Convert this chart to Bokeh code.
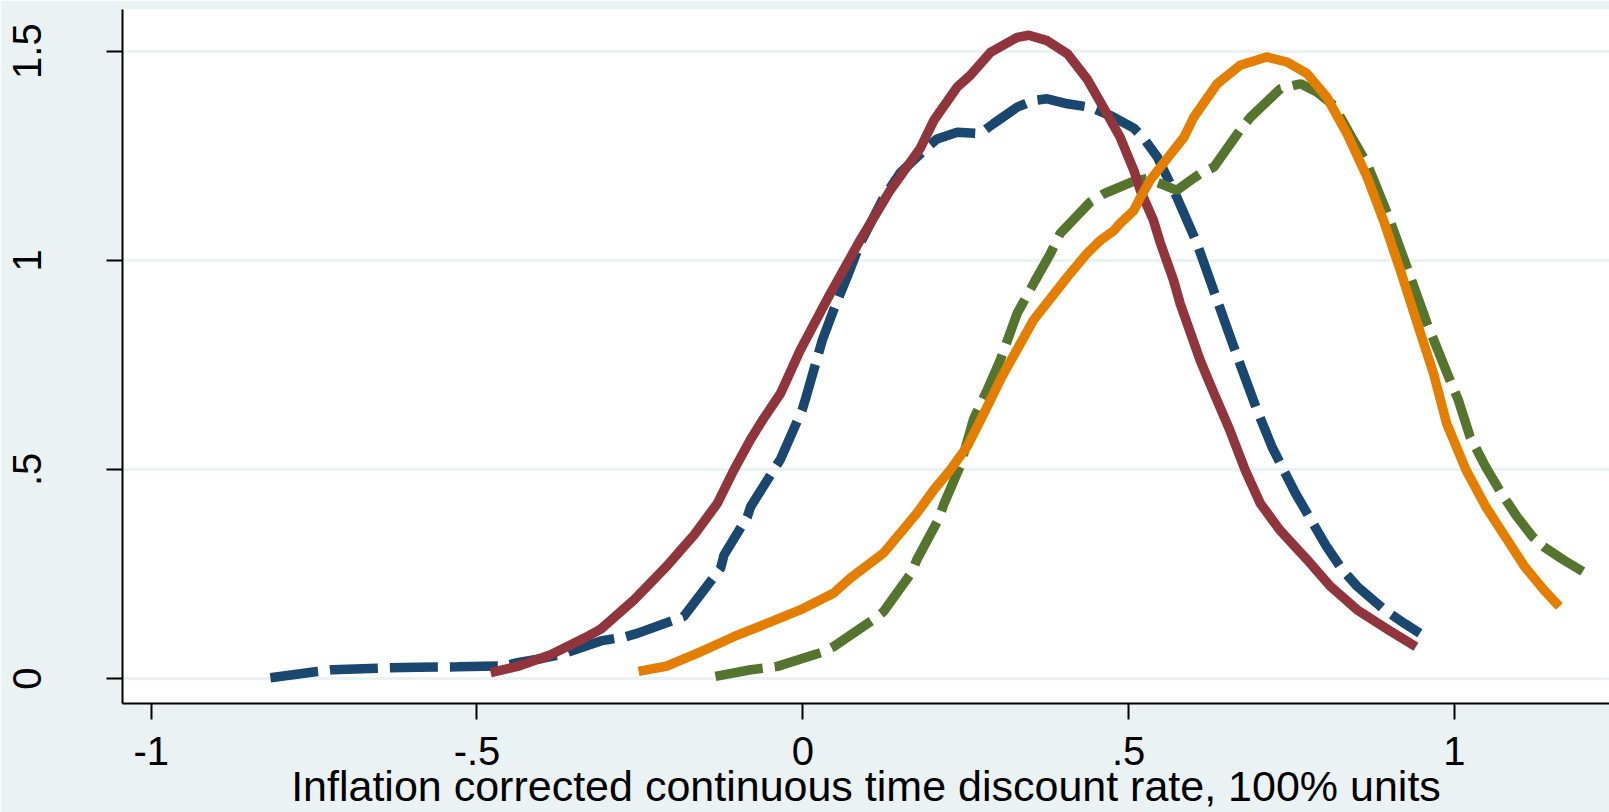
from bokeh.plotting import figure
from bokeh.models import FixedTicker, Range1d
from bokeh.embed import file_html
from bokeh.resources import INLINE

# Series (kernel densities)
navy_x = [-0.817, -0.745, -0.722, -0.648, -0.590, -0.530, -0.459, -0.438, -0.400, -0.367, -0.344, -0.310,
          -0.272, -0.254, -0.183, -0.172, -0.126, -0.121, -0.085, -0.080, -0.034, -0.001, 0.005, 0.030,
          0.047, 0.068, 0.088, 0.124, 0.150, 0.191, 0.206, 0.237, 0.272, 0.293, 0.329, 0.354, 0.375,
          0.406, 0.441, 0.472, 0.508, 0.523, 0.544, 0.559, 0.574, 0.605, 0.636, 0.666, 0.697, 0.720,
          0.738, 0.756, 0.780, 0.804, 0.828, 0.851, 0.893, 0.923, 0.947]
navy_y = [0.002, 0.017, 0.021, 0.025, 0.027, 0.028, 0.030, 0.038, 0.048, 0.059, 0.072, 0.090,
          0.100, 0.108, 0.148, 0.170, 0.264, 0.295, 0.387, 0.411, 0.525, 0.642, 0.673, 0.809,
          0.880, 0.960, 1.040, 1.150, 1.210, 1.270, 1.290, 1.306, 1.303, 1.327, 1.366, 1.382, 1.386,
          1.374, 1.366, 1.346, 1.316, 1.292, 1.247, 1.199, 1.151, 1.040, 0.904, 0.773, 0.642, 0.554,
          0.498, 0.443, 0.379, 0.315, 0.260, 0.220, 0.164, 0.132, 0.108]

maroon_x = [-0.479, -0.438, -0.387, -0.336, -0.310, -0.259, -0.208, -0.183, -0.167, -0.131, -0.106,
            -0.080, -0.060, -0.034, -0.004, 0.042, 0.088, 0.134, 0.180, 0.201, 0.237, 0.257, 0.288,
            0.329, 0.347, 0.375, 0.406, 0.436, 0.467, 0.487, 0.508, 0.518, 0.538, 0.549, 0.569, 0.579,
            0.610, 0.631, 0.655, 0.679, 0.702, 0.732, 0.774, 0.810, 0.851, 0.899, 0.941]
maroon_y = [0.014, 0.029, 0.057, 0.096, 0.118, 0.188, 0.270, 0.315, 0.343, 0.419, 0.498,
            0.572, 0.622, 0.682, 0.785, 0.920, 1.048, 1.167, 1.267, 1.334, 1.414, 1.442, 1.497,
            1.533, 1.538, 1.525, 1.494, 1.434, 1.350, 1.294, 1.215, 1.167, 1.096, 1.040, 0.952, 0.897,
            0.760, 0.682, 0.595, 0.498, 0.419, 0.355, 0.284, 0.220, 0.164, 0.116, 0.076]

green_x = [-0.134, -0.080, -0.039, 0.032, 0.047, 0.111, 0.124, 0.168, 0.175, 0.209, 0.216, 0.242,
           0.262, 0.283, 0.303, 0.329, 0.354, 0.380, 0.395, 0.441, 0.462, 0.508, 0.528, 0.549, 0.574,
           0.595, 0.610, 0.631, 0.671, 0.687, 0.733, 0.764, 0.789, 0.815, 0.845, 0.866, 0.897, 0.927,
           0.958, 0.994, 1.006, 1.024, 1.048, 1.072, 1.096, 1.120, 1.137, 1.167, 1.197]
green_y = [0.005, 0.021, 0.029, 0.064, 0.076, 0.144, 0.160, 0.256, 0.284, 0.383, 0.415, 0.510,
           0.620, 0.690, 0.761, 0.873, 0.944, 1.016, 1.064, 1.139, 1.159, 1.189, 1.195, 1.183, 1.167,
           1.191, 1.207, 1.223, 1.311, 1.342, 1.410, 1.422, 1.402, 1.370, 1.287, 1.231, 1.112, 0.984,
           0.849, 0.710, 0.666, 0.578, 0.506, 0.443, 0.387, 0.339, 0.315, 0.284, 0.256]

orange_x = [-0.252, -0.208, -0.157, -0.106, -0.055, -0.004, 0.047, 0.073, 0.124, 0.175, 0.201, 0.226,
            0.252, 0.278, 0.305, 0.354, 0.406, 0.436, 0.457, 0.477, 0.487, 0.508, 0.518, 0.533, 0.559,
            0.585, 0.600, 0.636, 0.671, 0.712, 0.743, 0.774, 0.804, 0.835, 0.866, 0.891, 0.917, 0.943,
            0.968, 0.988, 1.018, 1.048, 1.078, 1.108, 1.137, 1.161]
orange_y = [0.017, 0.030, 0.064, 0.100, 0.132, 0.164, 0.204, 0.240, 0.300, 0.395, 0.451, 0.498,
            0.554, 0.634, 0.720, 0.857, 0.960, 1.016, 1.048, 1.070, 1.088, 1.119, 1.150, 1.191, 1.243,
            1.294, 1.342, 1.422, 1.466, 1.486, 1.474, 1.446, 1.390, 1.303, 1.199, 1.096, 0.976, 0.849,
            0.729, 0.610, 0.498, 0.411, 0.339, 0.267, 0.212, 0.172]

x_ticks = [-1, -0.5, 0, 0.5, 1]
x_tick_labels = ["-1", "-.5", "0", ".5", "1"]
y_ticks = [0, 0.5, 1, 1.5]
y_tick_labels = ["0", ".5", "1", "1.5"]
x_title = "Inflation corrected continuous time discount rate, 100% units"

FONT = "Liberation Sans"
BG = "#EAF2F3"

p = figure(width=1609, height=812, output_backend="svg", toolbar_location=None,
           x_range=Range1d(-1.044, 1.238), y_range=Range1d(-0.0597, 1.5995),
           min_border_left=122, min_border_right=0, min_border_top=9, min_border_bottom=108)
p.background_fill_color = "white"
p.border_fill_color = BG
p.outline_line_color = None
p.xgrid.visible = False
p.ygrid.grid_line_color = BG
p.ygrid.grid_line_width = 3
p.ygrid.ticker = FixedTicker(ticks=y_ticks)

for ax in (p.xaxis[0], p.yaxis[0]):
    ax.axis_line_color = "black"
    ax.axis_line_width = 2
    ax.major_tick_line_color = "black"
    ax.major_tick_line_width = 2
    ax.major_tick_out = 16
    ax.major_tick_in = 0
    ax.minor_tick_line_color = None
    ax.major_label_text_font = FONT
    ax.major_label_text_font_size = "40px"
    ax.major_label_text_color = "black"

p.xaxis.ticker = FixedTicker(ticks=x_ticks)
p.xaxis.major_label_overrides = {t: l for t, l in zip(x_ticks, x_tick_labels)}
p.xaxis.major_label_standoff = 17
p.xaxis.axis_label = x_title
p.xaxis.axis_label_text_font = FONT
p.xaxis.axis_label_text_font_size = "43px"
p.xaxis.axis_label_text_font_style = "normal"
p.xaxis.axis_label_text_color = "black"
p.xaxis.axis_label_standoff = -6

p.yaxis.ticker = FixedTicker(ticks=y_ticks)
p.yaxis.major_label_overrides = {t: l for t, l in zip(y_ticks, y_tick_labels)}
p.yaxis.major_label_orientation = "vertical"
p.yaxis.major_label_standoff = 65

p.line(navy_x, navy_y, line_color="#1A476F", line_width=9.5, line_dash="48 12", line_cap="butt")
p.line(green_x, green_y, line_color="#55752F", line_width=9.5, line_dash="48 12", line_cap="butt")
p.line(maroon_x, maroon_y, line_color="#90353B", line_width=9.5, line_join="round")
p.line(orange_x, orange_y, line_color="#E37E00", line_width=9.5, line_join="round")

open("out.html", "w").write(file_html(p, INLINE))
